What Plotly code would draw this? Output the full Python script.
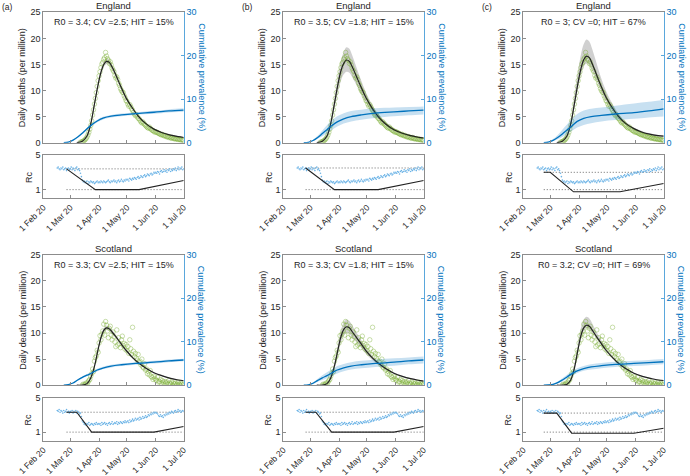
import pandas as pd
import plotly.graph_objects as go

W, H = 690, 476
FONT = 'Liberation Sans, Arial, Helvetica, sans-serif'
TXT = '#262626'
AX = '#8c8c8c'
BLACK = '#222222'
BLUE = '#0072BD'
BLUE_AX = '#5aa7dc'
GREEN = 'rgba(119,172,48,0.5)'
GRAY_BAND = 'rgba(150,150,150,0.45)'
BLUE_BAND = 'rgba(0,114,189,0.22)'
RC_DOT = '#6bb3e6'

MONTHS = ['2020-02-01', '2020-03-01', '2020-04-01', '2020-05-01', '2020-06-01', '2020-07-01']
MONTH_LABELS = ['1 Feb 20', '1 Mar 20', '1 Apr 20', '1 May 20', '1 Jun 20', '1 Jul 20']
X_RANGE = ['2020-02-01', '2020-07-01']

# observed daily deaths per million
ENG_OBS_START = '2020-03-12'
ENG_OBS = [0.1, 0.1, 0.2, 0.3, 0.4, 0.6, 0.8, 1.1, 1.5, 2.0, 2.6, 3.3, 4.2, 5.3, 6.3, 7.4, 8.5, 9.6, 10.8, 11.9,
           12.8, 13.6, 14.4, 15.1, 15.4, 16.0, 16.3, 17.3, 16.6, 16.1, 15.8, 15.2, 15.5, 14.9, 14.3, 13.9, 13.6,
           12.9, 12.4, 12.6, 12.1, 11.4, 11.0, 10.4, 10.0, 9.7, 9.6, 9.0, 8.6, 8.1,
           7.9, 7.4, 7.0, 7.3, 6.9, 6.5, 6.2, 5.8, 5.5, 5.2, 5.4, 5.0, 4.7, 4.6, 4.3, 4.0, 3.8, 4.0, 3.7, 3.5,
           3.3, 3.1, 2.9, 2.8, 3.0, 2.7, 2.6, 2.4, 2.3, 2.2, 2.0,
           2.1, 2.0, 1.9, 1.8, 1.7, 1.6, 1.5, 1.6, 1.4, 1.3, 1.4, 1.2, 1.1, 1.2, 1.0, 1.1, 0.9, 0.9, 1.0, 0.8,
           0.8, 0.7, 0.8, 0.7, 0.6, 0.7, 0.6, 0.5, 0.6, 0.5, 0.4]
SCO_OBS_START = '2020-03-14'
SCO_OBS = [0.0, 0.2, 0.0, 0.2, 0.4, 0.2, 0.6, 0.9, 1.1, 1.7, 2.2, 3.1, 2.6, 4.6, 5.3, 5.6, 6.7, 6.3,
           8.1, 9.5, 8.7, 9.8, 10.4, 11.7, 9.6, 12.2, 11.5, 10.4, 9.1, 10.9, 11.3, 9.6, 8.7, 10.2, 9.3, 8.3,
           7.4, 10.6, 7.7, 9.1, 8.0, 7.2, 8.7, 9.4, 7.6, 8.0, 6.9, 7.8,
           6.6, 7.4, 6.1, 8.7, 7.0, 5.9, 11.1, 6.5, 5.5, 6.1, 5.2, 4.8, 5.9, 4.4, 4.6, 3.9, 5.0, 3.5, 3.3, 4.1,
           2.9, 3.1, 2.2, 2.6, 2.0, 2.8, 1.7, 1.5, 1.1, 1.7, 1.3,
           1.0, 0.9, 1.5, 0.6, 0.7, 1.1, 0.4, 0.9, 0.6, 0.2, 0.7, 0.4, 0.6, 0.2, 0.9, 0.4, 0.2, 0.6, 0.0, 0.4,
           0.2, 0.4, 0.0, 0.2, 0.6, 0.2, 0.0, 0.4, 0.2, 0.0, 0.2]

# estimated Rc from data (daily)
RC_OBS_START = '2020-02-16'
ENG_RC_OBS = [3.5, 3.6, 3.4, 3.3, 3.5, 3.4, 3.6, 3.3, 3.4, 3.5, 3.2, 3.4, 3.5, 3.3,
              3.4, 3.6, 3.3, 3.5, 3.4, 3.2, 3.5, 3.6, 3.3, 3.4, 3.2, 2.9, 2.5, 2.1, 1.9, 2.0, 1.8, 1.9, 2.0, 1.7,
              1.9, 1.8, 2.0, 1.9, 1.8, 1.9, 1.7, 1.8, 1.9, 2.0, 1.8,
              1.9, 1.8, 2.0, 1.9, 1.8, 2.0, 1.9, 1.8, 1.9, 2.0, 2.1, 1.9, 1.8, 2.0, 1.9, 2.0, 2.1, 1.9, 2.0, 1.8,
              2.0, 2.1, 1.9, 2.0, 2.2, 2.0, 1.9, 2.1, 2.0, 2.2,
              2.1, 2.2, 2.0, 2.3, 2.2, 2.1, 2.3, 2.2, 2.4, 2.3, 2.2, 2.4, 2.5, 2.3, 2.4, 2.6, 2.5, 2.4, 2.6, 2.7,
              2.5, 2.6, 2.8, 2.7, 2.6, 2.8, 2.9, 2.7, 2.8, 3.0, 2.9,
              3.0, 2.9, 3.1, 3.0, 2.8, 3.1, 3.2, 3.0, 3.1, 3.3, 3.1, 3.2, 3.0, 3.3, 3.2, 3.4, 3.1, 3.3, 3.2, 3.4,
              3.3, 3.5, 3.2, 3.4, 3.6, 3.3, 3.5, 3.4, 3.6, 3.3, 3.4]
SCO_RC_OBS = [3.5, 3.4, 3.6, 3.3, 3.5, 3.4, 3.2, 3.5, 3.3, 3.4, 3.6, 3.3, 3.4, 3.2,
              3.4, 3.3, 3.5, 3.2, 3.4, 3.3, 3.5, 3.2, 3.4, 3.3, 3.1, 3.2, 2.8, 2.3, 2.1, 1.9, 2.0, 1.8, 2.0, 1.9,
              2.1, 1.8, 1.9, 2.0, 1.9, 1.8, 2.0, 1.9, 2.1, 1.9, 2.0,
              1.9, 2.0, 1.8, 2.1, 1.9, 2.0, 2.1, 1.9, 2.0, 1.8, 2.0, 2.1, 1.9, 2.0, 2.2, 1.9, 2.0, 2.1, 2.0, 2.2,
              1.9, 2.1, 2.0, 2.2, 2.1, 2.0, 2.2, 2.1, 2.3, 2.1,
              2.2, 2.3, 2.1, 2.4, 2.2, 2.3, 2.5, 2.3, 2.4, 2.6, 2.4, 2.5, 2.6, 2.4, 2.7, 2.5, 2.6, 2.8, 2.6, 2.7,
              2.9, 2.7, 2.8, 3.0, 2.9, 3.1, 3.0, 3.2, 3.1, 3.3, 3.2,
              3.3, 3.2, 3.1, 2.9, 2.8, 3.0, 2.8, 2.9, 2.7, 3.0, 2.9, 3.1, 3.0, 3.2, 3.1, 3.3, 3.2, 3.4, 3.3, 3.2,
              3.4, 3.5, 3.3, 3.4, 3.6, 3.4, 3.5, 3.3, 3.4, 3.5, 3.4]

# model fit of daily deaths (per million) with credible band
FIT_DAYS = ['2020-03-08', '2020-03-14', '2020-03-19', '2020-03-23', '2020-03-27', '2020-03-31', '2020-04-03',
            '2020-04-06', '2020-04-09', '2020-04-12', '2020-04-15', '2020-04-19', '2020-04-24', '2020-04-30',
            '2020-05-07', '2020-05-14', '2020-05-21', '2020-05-30', '2020-06-08', '2020-06-17', '2020-06-25',
            '2020-07-01']
ENG_A_FIT = [0.0, 0.3, 1.3, 3.6, 7.4, 11.2, 13.5, 15.0, 15.6, 15.4, 14.5, 13.0, 10.9, 8.6, 6.6, 4.9, 3.7, 2.6, 1.9, 1.45, 1.15, 1.0]
ENG_A_HI = [0.0, 0.35, 1.4, 3.8, 7.8, 11.7, 14.0, 15.5, 16.1, 15.9, 14.9, 13.4, 11.2, 8.9, 6.8, 5.1, 3.85, 2.7, 2.0, 1.55, 1.25, 1.1]
ENG_A_LO = [0.0, 0.25, 1.2, 3.4, 7.0, 10.7, 13.0, 14.5, 15.1, 14.9, 14.1, 12.6, 10.6, 8.3, 6.4, 4.7, 3.55, 2.5, 1.8, 1.35, 1.05, 0.9]
ENG_B_FIT = [0.0, 0.3, 1.3, 3.7, 7.5, 11.4, 13.8, 15.2, 15.85, 15.6, 14.6, 13.0, 10.9, 8.6, 6.5, 4.8, 3.6, 2.5, 1.8, 1.35, 1.05, 0.9]
ENG_B_HI = [0.0, 0.4, 1.6, 4.3, 8.6, 13.0, 15.8, 17.4, 18.3, 18.0, 16.8, 14.8, 12.3, 9.6, 7.2, 5.3, 4.0, 2.8, 2.0, 1.5, 1.2, 1.05]
ENG_B_LO = [0.0, 0.2, 1.0, 3.1, 6.5, 9.8, 11.9, 13.1, 13.6, 13.4, 12.6, 11.3, 9.6, 7.7, 5.9, 4.4, 3.3, 2.3, 1.6, 1.2, 0.9, 0.75]
ENG_C_FIT = [0.0, 0.3, 1.3, 3.6, 7.5, 11.6, 14.2, 15.9, 16.6, 16.3, 15.2, 13.4, 11.1, 8.7, 6.6, 4.9, 3.7, 2.7, 2.0, 1.6, 1.35, 1.25]
ENG_C_HI = [0.0, 0.4, 1.7, 4.5, 9.1, 13.9, 16.9, 18.9, 19.8, 19.4, 18.0, 15.7, 12.8, 9.9, 7.4, 5.4, 4.0, 2.9, 2.2, 1.75, 1.5, 1.4]
ENG_C_LO = [0.0, 0.25, 1.1, 3.2, 6.8, 10.6, 13.0, 14.6, 15.2, 14.9, 13.9, 12.3, 10.2, 8.0, 6.1, 4.5, 3.4, 2.5, 1.8, 1.45, 1.2, 1.1]
SCO_A_FIT = [0.0, 0.0, 0.3, 1.4, 3.6, 6.9, 9.1, 10.5, 11.0, 10.8, 10.2, 9.3, 8.1, 6.7, 5.3, 4.2, 3.3, 2.4, 1.8, 1.3, 1.0, 0.85]
SCO_A_HI = [0.0, 0.0, 0.35, 1.55, 3.9, 7.3, 9.5, 10.9, 11.4, 11.2, 10.6, 9.6, 8.4, 6.9, 5.5, 4.35, 3.4, 2.5, 1.9, 1.4, 1.1, 0.95]
SCO_A_LO = [0.0, 0.0, 0.25, 1.25, 3.3, 6.5, 8.7, 10.1, 10.6, 10.4, 9.8, 9.0, 7.8, 6.5, 5.1, 4.05, 3.2, 2.3, 1.7, 1.2, 0.9, 0.75]
SCO_B_FIT = [0.0, 0.0, 0.3, 1.4, 3.7, 7.0, 9.3, 10.7, 11.2, 11.0, 10.3, 9.3, 8.1, 6.6, 5.2, 4.1, 3.2, 2.3, 1.7, 1.25, 0.95, 0.8]
SCO_B_HI = [0.0, 0.0, 0.4, 1.7, 4.3, 8.0, 10.5, 12.0, 12.6, 12.3, 11.5, 10.3, 8.9, 7.2, 5.6, 4.4, 3.4, 2.45, 1.8, 1.35, 1.05, 0.9]
SCO_B_LO = [0.0, 0.0, 0.2, 1.1, 3.1, 6.1, 8.2, 9.5, 10.0, 9.8, 9.2, 8.4, 7.3, 6.0, 4.8, 3.8, 3.0, 2.15, 1.6, 1.15, 0.85, 0.7]
SCO_C_FIT = [0.0, 0.0, 0.2, 1.0, 3.3, 7.0, 9.5, 11.0, 11.5, 11.3, 10.6, 9.5, 8.2, 6.7, 5.3, 4.1, 3.2, 2.3, 1.7, 1.3, 1.0, 0.9]
SCO_C_HI = [0.0, 0.0, 0.3, 1.3, 4.0, 8.2, 11.0, 12.6, 13.1, 12.8, 11.9, 10.5, 8.9, 7.2, 5.6, 4.3, 3.35, 2.4, 1.8, 1.4, 1.1, 1.0]
SCO_C_LO = [0.0, 0.0, 0.15, 0.85, 3.0, 6.5, 8.9, 10.4, 10.9, 10.7, 10.1, 9.1, 7.9, 6.5, 5.1, 3.95, 3.05, 2.2, 1.6, 1.2, 0.9, 0.8]

# cumulative prevalence (%) with band
PREV_DAYS = ['2020-02-23', '2020-02-28', '2020-03-04', '2020-03-09', '2020-03-14', '2020-03-19', '2020-03-24',
             '2020-03-30', '2020-04-06', '2020-04-14', '2020-04-25', '2020-05-10', '2020-05-30', '2020-06-15',
             '2020-07-01']
ENG_A_PREV = [0.0, 0.15, 0.6, 1.3, 2.2, 3.2, 4.1, 5.0, 5.7, 6.1, 6.4, 6.7, 7.0, 7.3, 7.5]
ENG_A_PREV_HI = [0.0, 0.2, 0.7, 1.45, 2.4, 3.45, 4.4, 5.3, 6.0, 6.4, 6.7, 7.0, 7.35, 7.65, 7.9]
ENG_A_PREV_LO = [0.0, 0.1, 0.5, 1.15, 2.0, 2.95, 3.8, 4.7, 5.4, 5.8, 6.1, 6.4, 6.65, 6.95, 7.1]
ENG_B_PREV = [0.0, 0.1, 0.5, 1.2, 2.1, 3.0, 3.9, 4.8, 5.5, 6.0, 6.4, 6.8, 7.1, 7.3, 7.5]
ENG_B_PREV_HI = [0.0, 0.15, 0.7, 1.6, 2.8, 4.0, 5.1, 6.1, 6.8, 7.3, 7.6, 7.9, 8.1, 8.2, 8.3]
ENG_B_PREV_LO = [0.0, 0.05, 0.35, 0.9, 1.5, 2.2, 2.9, 3.7, 4.4, 4.9, 5.3, 5.7, 6.1, 6.3, 6.5]
ENG_C_PREV = [0.0, 0.15, 0.55, 1.2, 2.0, 2.9, 3.8, 4.9, 5.6, 6.0, 6.3, 6.6, 6.9, 7.3, 7.8]
ENG_C_PREV_HI = [0.0, 0.25, 0.85, 1.8, 3.0, 4.2, 5.4, 6.6, 7.4, 7.8, 8.1, 8.5, 9.0, 9.4, 9.8]
ENG_C_PREV_LO = [0.0, 0.08, 0.35, 0.8, 1.3, 2.0, 2.7, 3.5, 4.1, 4.5, 4.9, 5.2, 5.5, 5.8, 6.0]
SCO_A_PREV = [0.0, 0.15, 0.5, 1.2, 1.8, 2.3, 2.8, 3.5, 4.0, 4.4, 4.7, 5.0, 5.3, 5.6, 5.8]
SCO_A_PREV_HI = [0.0, 0.2, 0.6, 1.35, 2.0, 2.55, 3.1, 3.8, 4.3, 4.7, 5.0, 5.3, 5.6, 5.9, 6.1]
SCO_A_PREV_LO = [0.0, 0.1, 0.4, 1.05, 1.6, 2.05, 2.5, 3.2, 3.7, 4.1, 4.4, 4.7, 5.0, 5.3, 5.5]
SCO_B_PREV = [0.0, 0.1, 0.45, 1.1, 1.7, 2.2, 2.8, 3.5, 4.0, 4.4, 4.7, 5.0, 5.3, 5.6, 5.8]
SCO_B_PREV_HI = [0.0, 0.15, 0.65, 1.5, 2.3, 3.0, 3.6, 4.4, 4.9, 5.3, 5.6, 5.9, 6.2, 6.4, 6.6]
SCO_B_PREV_LO = [0.0, 0.05, 0.3, 0.8, 1.2, 1.6, 2.1, 2.7, 3.2, 3.6, 3.9, 4.2, 4.5, 4.8, 5.0]
SCO_C_PREV = [0.0, 0.05, 0.2, 0.6, 1.2, 1.9, 2.6, 3.3, 3.8, 4.2, 4.5, 4.8, 5.0, 5.2, 5.4]
SCO_C_PREV_HI = [0.0, 0.1, 0.3, 0.85, 1.6, 2.4, 3.2, 3.9, 4.4, 4.8, 5.1, 5.4, 5.6, 5.8, 6.0]
SCO_C_PREV_LO = [0.0, 0.02, 0.12, 0.4, 0.9, 1.5, 2.1, 2.8, 3.3, 3.6, 3.9, 4.2, 4.4, 4.6, 4.8]

# model Rc(t), piecewise linear
ENG_A_RC_DAYS = ['2020-02-26', '2020-03-28', '2020-05-14', '2020-07-01']
ENG_A_RC = [3.4, 1.0, 1.0, 2.05]
ENG_B_RC_DAYS = ['2020-02-25', '2020-03-27', '2020-05-13', '2020-07-01']
ENG_B_RC = [3.5, 1.0, 1.0, 2.05]
ENG_C_RC_DAYS = ['2020-02-23', '2020-03-01', '2020-03-26', '2020-05-15', '2020-07-01']
ENG_C_RC = [3.0, 3.0, 0.75, 0.75, 1.7]
SCO_A_RC_DAYS = ['2020-02-26', '2020-03-08', '2020-03-24', '2020-05-30', '2020-07-01']
SCO_A_RC = [3.3, 3.3, 1.0, 1.0, 1.65]
SCO_B_RC_DAYS = ['2020-02-25', '2020-03-07', '2020-03-24', '2020-05-30', '2020-07-01']
SCO_B_RC = [3.3, 3.3, 1.0, 1.0, 1.65]
SCO_C_RC_DAYS = ['2020-02-23', '2020-03-08', '2020-03-24', '2020-05-30', '2020-07-01']
SCO_C_RC = [3.2, 3.2, 0.88, 0.88, 1.45]

R0 = [3.4, 3.5, 3.0, 3.3, 3.3, 3.2]
PARAM_TEXT = ['R0 = 3.4; CV =2.5; HIT = 15%', 'R0 = 3.5; CV =1.8; HIT = 15%', 'R0 = 3; CV =0; HIT = 67%',
              'R0 = 3.3; CV =2.5; HIT = 15%', 'R0 = 3.3; CV =1.8; HIT = 15%', 'R0 = 3.2; CV =0; HIT = 69%']
REGIONS = ['England', 'Scotland']
PANEL_LABELS = ['(a)', '(b)', '(c)']

# layout in pixels
COL_LEFT = [43.3, 283.3, 523.3]
BOX_W = 140.4
MAIN_TOP = [12.3, 254.8]
MAIN_H = 130.4
RC_TOP = [155.0, 397.5]
RC_H = 43.3

eng_obs_x = pd.date_range(ENG_OBS_START, periods=len(ENG_OBS))
sco_obs_x = pd.date_range(SCO_OBS_START, periods=len(SCO_OBS))
rc_obs_x = pd.date_range(RC_OBS_START, periods=len(ENG_RC_OBS))

panels = [
    (0, 0, ENG_A_FIT, ENG_A_LO, ENG_A_HI, ENG_A_PREV, ENG_A_PREV_LO, ENG_A_PREV_HI, ENG_A_RC_DAYS, ENG_A_RC),
    (0, 1, ENG_B_FIT, ENG_B_LO, ENG_B_HI, ENG_B_PREV, ENG_B_PREV_LO, ENG_B_PREV_HI, ENG_B_RC_DAYS, ENG_B_RC),
    (0, 2, ENG_C_FIT, ENG_C_LO, ENG_C_HI, ENG_C_PREV, ENG_C_PREV_LO, ENG_C_PREV_HI, ENG_C_RC_DAYS, ENG_C_RC),
    (1, 0, SCO_A_FIT, SCO_A_LO, SCO_A_HI, SCO_A_PREV, SCO_A_PREV_LO, SCO_A_PREV_HI, SCO_A_RC_DAYS, SCO_A_RC),
    (1, 1, SCO_B_FIT, SCO_B_LO, SCO_B_HI, SCO_B_PREV, SCO_B_PREV_LO, SCO_B_PREV_HI, SCO_B_RC_DAYS, SCO_B_RC),
    (1, 2, SCO_C_FIT, SCO_C_LO, SCO_C_HI, SCO_C_PREV, SCO_C_PREV_LO, SCO_C_PREV_HI, SCO_C_RC_DAYS, SCO_C_RC),
]


def ref(letter, n):
    return letter if n == 1 else f'{letter}{n}'


def key(letter, n):
    return f'{letter}axis' if n == 1 else f'{letter}axis{n}'


def band(fig, x, lo, hi, color, xr, yr):
    fig.add_trace(go.Scatter(x=x, y=lo, mode='lines', line=dict(width=0, shape='spline'),
                             xaxis=xr, yaxis=yr, hoverinfo='skip'))
    fig.add_trace(go.Scatter(x=x, y=hi, mode='lines', line=dict(width=0, shape='spline'),
                             fill='tonexty', fillcolor=color, xaxis=xr, yaxis=yr, hoverinfo='skip'))


fig = go.Figure()
layout = {}
annotations = []
tick_font = dict(family=FONT, size=9, color=TXT)
base = dict(showgrid=False, zeroline=False, showline=True, linecolor=AX, linewidth=1, automargin=False,
            ticks='inside', ticklen=3, tickcolor=AX, tickfont=tick_font)

for p, (row, col, fit, lo, hi, prev, prev_lo, prev_hi, rc_days, rc) in enumerate(panels):
    xm, xr = 2 * p + 1, 2 * p + 2
    yl, yr2, yrc = 3 * p + 1, 3 * p + 2, 3 * p + 3
    left = COL_LEFT[col]
    xdom = [left / W, (left + BOX_W) / W]
    mt, rt = MAIN_TOP[row], RC_TOP[row]
    obs_x = eng_obs_x if row == 0 else sco_obs_x
    obs = ENG_OBS if row == 0 else SCO_OBS
    rc_obs = ENG_RC_OBS if row == 0 else SCO_RC_OBS

    # main panel
    band(fig, FIT_DAYS, lo, hi, GRAY_BAND, ref('x', xm), ref('y', yl))
    fig.add_trace(go.Scatter(x=obs_x, y=obs, mode='markers', xaxis=ref('x', xm), yaxis=ref('y', yl),
                             marker=dict(symbol='circle-open', size=4.5, color=GREEN, line=dict(width=0.8))))
    fig.add_trace(go.Scatter(x=FIT_DAYS, y=fit, mode='lines', xaxis=ref('x', xm), yaxis=ref('y', yl),
                             line=dict(color=BLACK, width=1.2, shape='spline')))
    band(fig, PREV_DAYS, prev_lo, prev_hi, BLUE_BAND, ref('x', xm), ref('y', yr2))
    fig.add_trace(go.Scatter(x=PREV_DAYS, y=prev, mode='lines', xaxis=ref('x', xm), yaxis=ref('y', yr2),
                             line=dict(color=BLUE, width=1.3, shape='spline')))

    # Rc panel
    fig.add_trace(go.Scatter(x=[rc_days[0], X_RANGE[1]], y=[R0[p], R0[p]], mode='lines',
                             xaxis=ref('x', xr), yaxis=ref('y', yrc),
                             line=dict(color='#444444', width=0.8, dash='1px,2px')))
    fig.add_trace(go.Scatter(x=[rc_days[0], X_RANGE[1]], y=[1, 1], mode='lines',
                             xaxis=ref('x', xr), yaxis=ref('y', yrc),
                             line=dict(color='#444444', width=0.8, dash='1px,2px')))
    fig.add_trace(go.Scatter(x=rc_obs_x, y=rc_obs, mode='markers', xaxis=ref('x', xr), yaxis=ref('y', yrc),
                             marker=dict(size=1.6, color=RC_DOT)))
    fig.add_trace(go.Scatter(x=rc_days, y=rc, mode='lines', xaxis=ref('x', xr), yaxis=ref('y', yrc),
                             line=dict(color=BLACK, width=1.1)))

    layout[key('x', xm)] = dict(base, domain=xdom, anchor=ref('y', yl), type='date', range=X_RANGE,
                                tickvals=MONTHS, showticklabels=False, mirror=True)
    layout[key('y', yl)] = dict(base, domain=[1 - (mt + MAIN_H) / H, 1 - mt / H], anchor=ref('x', xm),
                                range=[0, 25], tickvals=[0, 5, 10, 15, 20, 25])
    layout[key('y', yr2)] = dict(base, overlaying=ref('y', yl), side='right', anchor=ref('x', xm),
                                 range=[0, 30], tickvals=[0, 10, 20, 30], linecolor=BLUE_AX, tickcolor=BLUE_AX,
                                 tickfont=dict(family=FONT, size=9, color=BLUE))
    layout[key('x', xr)] = dict(base, domain=xdom, anchor=ref('y', yrc), type='date', range=X_RANGE,
                                tickvals=MONTHS, ticktext=MONTH_LABELS, tickangle=-45, mirror=True,
                                tickfont=dict(family=FONT, size=8.5, color=TXT))
    layout[key('y', yrc)] = dict(base, domain=[1 - (rt + RC_H) / H, 1 - rt / H], anchor=ref('x', xr),
                                 range=[0, 5], tickvals=[1, 5], mirror=True)

    cx = (left + BOX_W / 2) / W
    annotations.append(dict(x=cx, y=1 - (mt - 6.3) / H, text=REGIONS[row], showarrow=False,
                            font=dict(family=FONT, size=9.5, color=TXT), xanchor='center', yanchor='middle'))
    annotations.append(dict(x=cx, y=1 - (mt + 9.7) / H, text=PARAM_TEXT[p], showarrow=False,
                            font=dict(family=FONT, size=9, color=TXT), xanchor='center', yanchor='middle'))
    annotations.append(dict(x=(left - 20.5) / W, y=1 - (mt + MAIN_H / 2) / H, text='Daily deaths (per million)',
                            textangle=-90, showarrow=False, font=dict(family=FONT, size=9, color=TXT),
                            xanchor='center', yanchor='middle'))
    annotations.append(dict(x=(left + BOX_W + 17.5) / W, y=1 - (mt + MAIN_H / 2) / H,
                            text='Cumulative prevalence (%)', textangle=90, showarrow=False,
                            font=dict(family=FONT, size=9, color=BLUE), xanchor='center', yanchor='middle'))
    annotations.append(dict(x=(left - 15) / W, y=1 - (rt + RC_H / 2) / H, text='Rc', textangle=-90,
                            showarrow=False, font=dict(family=FONT, size=9, color=TXT),
                            xanchor='center', yanchor='middle'))

for col, lab in enumerate(PANEL_LABELS):
    annotations.append(dict(x=(COL_LEFT[col] - 43) / W, y=1 - 6.7 / H, text=lab, showarrow=False,
                            xanchor='left', yanchor='middle', font=dict(family=FONT, size=8.5, color=TXT)))

for a in annotations:
    a.update(xref='paper', yref='paper')

fig.update_layout(**layout)
fig.update_layout(width=W, height=H, margin=dict(l=0, r=0, t=0, b=0), showlegend=False,
                  paper_bgcolor='white', plot_bgcolor='white', annotations=annotations,
                  font=dict(family=FONT, color=TXT))
# the page body has a default 8px margin; drop it so the figure fills the window
fig.write_html('out.html', config={'displayModeBar': False},
               post_script="document.body.style.margin='0';")
